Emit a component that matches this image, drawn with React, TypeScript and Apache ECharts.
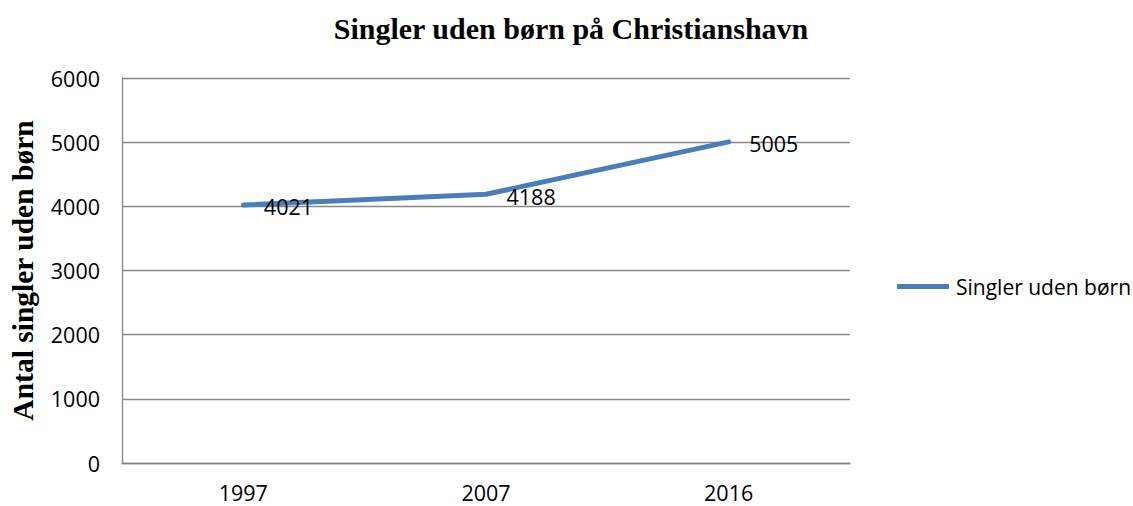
import React, { useEffect, useRef } from "react";
import * as echarts from "echarts";

const title = "Singler uden børn på Christianshavn";
const yAxisName = "Antal singler uden børn";
const seriesName = "Singler uden børn";
const years = ["1997", "2007", "2016"];
const values = [4021, 4188, 5005];
const yTicks = { min: 0, max: 6000, interval: 1000 };

export default function App() {
  const ref = useRef<HTMLDivElement>(null);
  useEffect(() => {
    if (!ref.current) return;
    const chart = echarts.init(ref.current, undefined, { renderer: "svg" });
    const sans = "'Open Sans', 'Liberation Sans', sans-serif";
    const serif = "'Liberation Serif', 'Times New Roman', serif";
    chart.setOption({
      animation: false,
      backgroundColor: "#ffffff",
      title: {
        text: title,
        left: 566,
        textAlign: "center",
        top: 8,
        textStyle: { fontFamily: serif, fontWeight: "bold", fontSize: 30, color: "#000" },
      },
      legend: {
        orient: "vertical",
        left: 892,
        top: 271,
        itemWidth: 52,
        itemHeight: 12,
        itemGap: 6,
        icon: "path://M0,0 L52,0 L52,5 L0,5 Z",
        data: [{ name: seriesName, itemStyle: { color: "#4a7ebb" } }],
        textStyle: { fontFamily: sans, fontSize: 21, color: "#000", padding: [0, 0, 0, 2] },
      },
      grid: { left: 120, right: 283, top: 78, bottom: 43, containLabel: false },
      xAxis: {
        type: "category",
        data: years,
        boundaryGap: true,
        axisLine: { show: true, lineStyle: { color: "#878787", width: 1.3 } },
        axisTick: { show: false },
        axisLabel: { fontFamily: sans, fontSize: 21.5, color: "#000", margin: 18 },
      },
      yAxis: {
        type: "value",
        min: yTicks.min,
        max: yTicks.max,
        interval: yTicks.interval,
        name: yAxisName,
        nameLocation: "middle",
        nameGap: 84,
        nameRotate: 90,
        nameTextStyle: { fontFamily: serif, fontWeight: "bold", fontSize: 29.5, color: "#000" },
        axisLine: { show: true, lineStyle: { color: "#878787", width: 1.3 } },
        axisTick: { show: false },
        splitLine: { show: true, lineStyle: { color: "#878787", width: 1.3 } },
        axisLabel: {
          fontFamily: sans,
          fontSize: 21.5,
          color: "#000",
          margin: 22,
          formatter: (v: number) => String(v),
        },
      },
      series: [
        {
          name: seriesName,
          type: "line",
          data: values,
          symbol: "circle",
          symbolSize: 1,
          showSymbol: true,
          lineStyle: { color: "#4a7ebb", width: 5, cap: "round" },
          itemStyle: { color: "#4a7ebb" },
          label: {
            show: true,
            position: "right",
            distance: 20,
            offset: [0, 2],
            fontFamily: sans,
            fontSize: 21.5,
            color: "#000",
          },
        },
      ],
    });
    return () => chart.dispose();
  }, []);
  return (
    <div
      ref={ref}
      style={{ position: "fixed", left: 0, top: 0, width: 1133, height: 506 }}
    />
  );
}
